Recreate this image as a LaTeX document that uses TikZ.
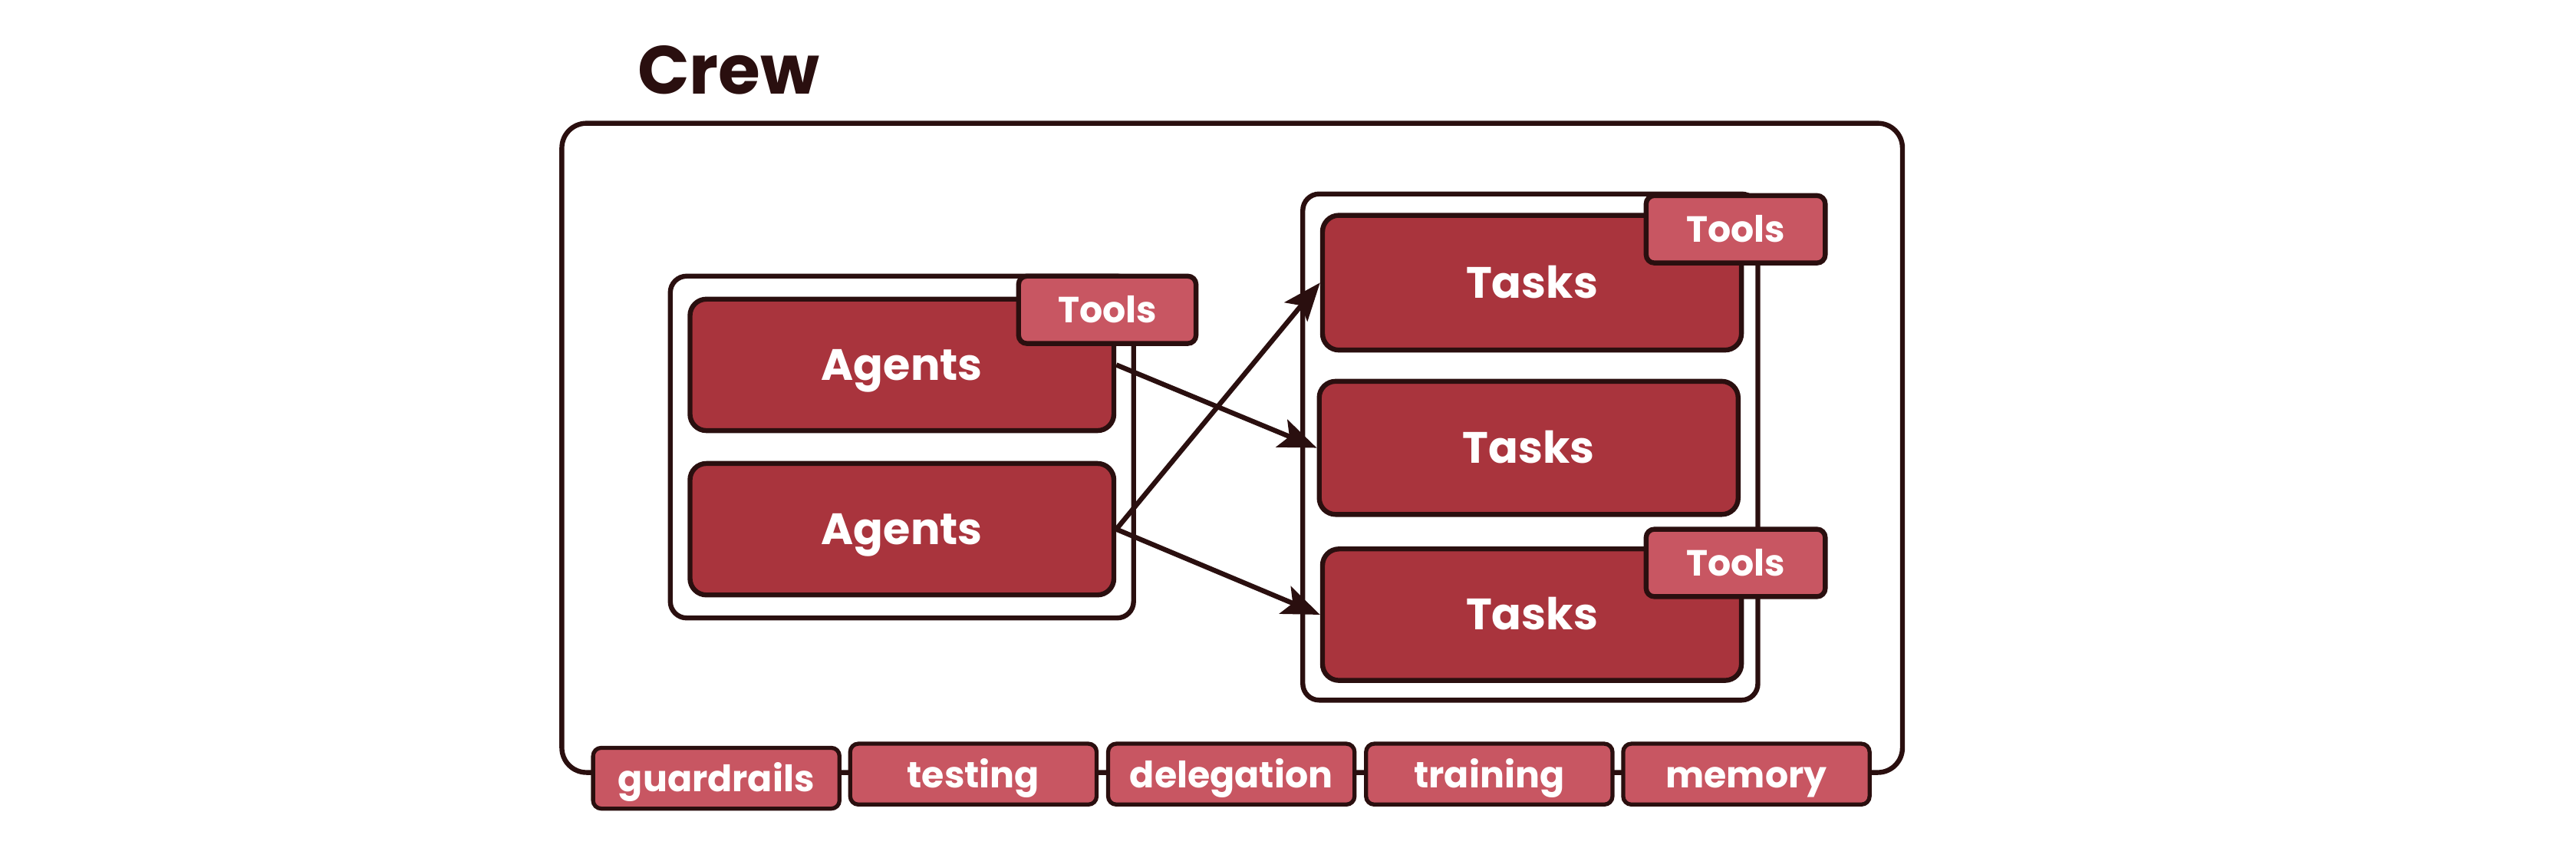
\documentclass[tikz,border=0pt]{standalone}
\usepackage{fontspec}
\setmainfont{Poppins}
\usetikzlibrary{arrows.meta,shadows}
\definecolor{ink}{HTML}{2A0F0F}
\definecolor{boxred}{HTML}{A9343D}
\definecolor{toolred}{HTML}{C85662}
\tikzset{
  crewbox/.style={draw=ink, line width=8.5pt, rounded corners=15mm, fill=white, minimum width=816mm, minimum height=395mm},
  holder/.style={draw=ink, line width=8.5pt, rounded corners=10mm, fill=white, drop shadow={shadow xshift=0mm, shadow yshift=-1mm, fill=ink, opacity=1}},
  mainbox/.style={draw=ink, line width=8.5pt, rounded corners=10mm, fill=boxred, text=white, font=\fontsize{76}{80}\selectfont\bfseries, text height=53pt, text depth=0pt, minimum width=255mm, minimum height=80mm, drop shadow={shadow xshift=0mm, shadow yshift=-1.2mm, fill=ink, opacity=1}},
  toolbox/.style={draw=ink, line width=8.5pt, rounded corners=5mm, fill=toolred, text=white, font=\fontsize{63}{66}\selectfont\bfseries, text height=44pt, text depth=0pt, minimum width=108mm, minimum height=41mm, drop shadow={shadow xshift=0mm, shadow yshift=-1mm, fill=ink, opacity=1}},
  pill/.style={draw=ink, line width=7pt, rounded corners=5mm, fill=toolred, text=white, font=\fontsize{63}{66}\selectfont\bfseries, text height=46pt, text depth=0pt, minimum width=150mm, minimum height=37mm, drop shadow={shadow xshift=0mm, shadow yshift=-1mm, fill=ink, opacity=1}},
  link/.style={draw=ink, line width=8.5pt, -{Stealth[length=23mm, width=18mm, inset=5mm]}},
}
\begin{document}
\begin{tikzpicture}[x=1mm, y=-1mm]
\useasboundingbox (0,0) rectangle (1568,522);
% crew
\node[crewbox] (crew) at (750,272.5) {};
\node[anchor=base west, text=ink, font=\fontsize{118}{120}\selectfont\bfseries, inner sep=0pt] (title) at (388,57) {Crew};
% agents
\node[holder, minimum width=282mm, minimum height=208mm] (agc) at (549,272) {};
\node[mainbox, minimum width=258mm] (a1) at (549,222) {Agents};
\node[mainbox, minimum width=258mm] (a2) at (549,322) {Agents};
\node[toolbox] (ta) at (674,188.5) {Tools};
% tasks
\node[holder, minimum width=277mm, minimum height=308mm] (tkc) at (931.5,272) {};
\node[mainbox, minimum height=82mm] (t1) at (932.5,172) {Tasks};
\node[mainbox, minimum height=81mm] (t2) at (930.5,272.5) {Tasks};
\node[mainbox] (t3) at (932.5,374) {Tasks};
\node[toolbox, minimum width=109mm] (tt1) at (1056.5,139.5) {Tools};
\node[toolbox, minimum width=109mm] (tt3) at (1056.5,342.5) {Tools};
% arrows
\draw[link] (a1.east) -- (t2.west);
\draw[link] (a2.east) -- (t1.west);
\draw[link] (a2.east) -- (t3.west);
% pills
\node[pill] (p1) at (436,473.5) {guardrails};
\node[pill] (p2) at (592.5,471) {testing};
\node[pill] (p3) at (749.5,471) {delegation};
\node[pill] (p4) at (906.5,471) {training};
\node[pill] (p5) at (1063,471) {memory};
\end{tikzpicture}
\end{document}
